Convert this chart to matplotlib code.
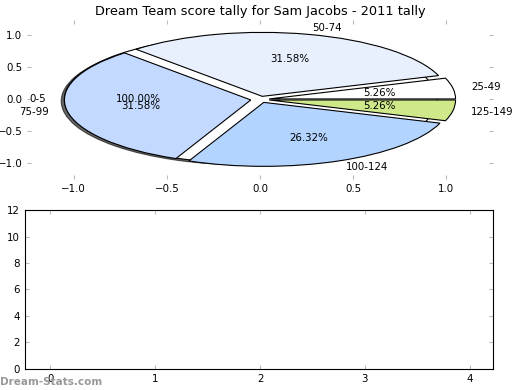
import matplotlib
matplotlib.use("Agg")
import matplotlib.pyplot as plt

# tally data
bands = ['25-49', '50-74', '75-99', '100-124', '125-149']
counts = [1, 6, 6, 5, 1]
colors = ['#ffffff', '#e8f0fe', '#c4d9ff', '#b3d4ff', '#cfe98a']
total_label = ['0-5']
total_value = [1]
bar_x = [0, 1, 2, 3, 4]
bar_h = [0, 0, 0, 0, 0]

plt.rcParams['font.size'] = 7.4
tick_grey = '#bbbbbb'

fig = plt.figure(figsize=(5.2, 3.9), dpi=100)

# pie
ax1 = fig.add_axes([0.052, 0.540, 0.896, 0.410])
ax1.pie(total_value, labels=total_label, explode=[0.05], colors=['white'],
        autopct='%.2f%%', startangle=0,
        shadow={'ox': -0.012, 'oy': -0.018, 'shade': 1.0, 'alpha': 0.6},
        wedgeprops={'edgecolor': 'black', 'linewidth': 0.8})
ax1.pie(counts, labels=bands, explode=[0.05] * 5, colors=colors,
        autopct='%.2f%%', startangle=0,
        wedgeprops={'edgecolor': 'black', 'linewidth': 0.8})
ax1.set_aspect('auto')
ax1.set_xlim(-1.25, 1.25)
ax1.set_ylim(-1.25, 1.25)
ax1.set_xticks([-1.0, -0.5, 0.0, 0.5, 1.0])
ax1.set_yticks([-1.0, -0.5, 0.0, 0.5, 1.0])
ax1.tick_params(direction='in', color=tick_grey, length=3, top=True, right=True)
ax1.set_title('Dream Team score tally for Sam Jacobs - 2011 tally', fontsize=9.3, pad=3)

# bar axes (empty)
ax2 = fig.add_axes([0.048, 0.054, 0.900, 0.4075])
ax2.bar(bar_x, bar_h)
ax2.set_xlim(-0.24, 4.22)
ax2.set_ylim(0, 12)
ax2.set_xticks(bar_x)
ax2.set_yticks(range(0, 13, 2))
ax2.tick_params(direction='in', color=tick_grey, length=3, top=True, right=True)

fig.text(0.0, 0.012, 'Dream-Stats.com', color='#999999', fontsize=7.5, weight='bold')

fig.savefig('out.png', dpi=100)
